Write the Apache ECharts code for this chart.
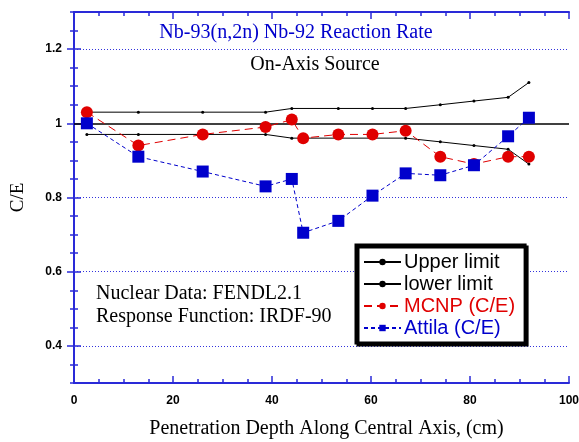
<!DOCTYPE html>
<html>
<head>
<meta charset="utf-8">
<script src="https://cdn.jsdelivr.net/npm/echarts@6/dist/echarts.min.js"></script>
<style>html,body{margin:0;padding:0;background:#fff}#c{width:579px;height:442px}</style>
</head>
<body>
<div id="c"></div>
<script>
// Data
var limitX = [2.6, 13, 26, 38.7, 44, 53.4, 60.3, 67, 74, 80.8, 87.7, 91.9];
var upperLimit = [1.03, 1.03, 1.03, 1.03, 1.04, 1.04, 1.04, 1.04, 1.05, 1.06, 1.07, 1.11];
var lowerLimit = [0.97, 0.97, 0.97, 0.97, 0.96, 0.96, 0.96, 0.96, 0.95, 0.94, 0.93, 0.89];
var calcX = [2.6, 13, 26, 38.7, 44, 46.3, 53.4, 60.3, 67, 74, 80.8, 87.7, 91.9];
var mcnp = [1.03, 0.94, 0.97, 0.99, 1.01, 0.96, 0.97, 0.97, 0.98, 0.91, 0.89, 0.91, 0.91];
var attila = [1.00, 0.91, 0.87, 0.83, 0.85, 0.705, 0.737, 0.805, 0.865, 0.86, 0.887, 0.965, 1.015];
var yLabelValues = [0.4, 0.6, 0.8, 1.0, 1.2];
var gridDotted = [0.4, 0.6, 0.8, 1.2];

function pairs(xs, ys) { return xs.map(function (x, i) { return [x, ys[i]]; }); }

var BLUE = '#0000cc';
var AXIS = '#2a2ad8';
var RED = '#e00000';
var serif = '"Liberation Serif", "Times New Roman", serif';
var sans = '"Liberation Sans", Arial, sans-serif';

var chart = echarts.init(document.getElementById('c'));

function xAx(pos, showLabel) {
  return {
    type: 'value', position: pos, min: 0, max: 100, interval: 5,
    axisLine: { show: true, lineStyle: { color: AXIS, width: 2 } },
    axisTick: { show: true, inside: true, length: 4, lineStyle: { color: AXIS, width: 1.5 } },
    axisLabel: {
      show: showLabel, color: '#000', fontWeight: 'bold', fontFamily: sans, fontSize: 12, margin: 12,
      formatter: function (v) { var r = Math.round(v); return r % 20 === 0 ? String(r) : ''; }
    },
    splitLine: { show: false },
    name: showLabel ? 'Penetration Depth Along Central Axis, (cm)' : '',
    nameLocation: 'middle', nameGap: 36,
    nameTextStyle: { fontFamily: serif, fontSize: 20, color: '#000', padding: [0, 0, 0, 10] }
  };
}
function xMajor(pos) {
  return {
    type: 'value', position: pos, min: 0, max: 100, interval: 20,
    axisLine: { show: false },
    axisTick: { show: true, inside: true, length: 7, lineStyle: { color: AXIS, width: 1.5 } },
    axisLabel: { show: false }, splitLine: { show: false }
  };
}
function yAx(pos, showLabel) {
  return {
    type: 'value', position: pos, min: 0.3, max: 1.3, interval: 0.05,
    axisLine: { show: true, lineStyle: { color: AXIS, width: 2 } },
    axisTick: { show: true, inside: true, length: 4, lineStyle: { color: AXIS, width: 1.5 } },
    axisLabel: {
      show: showLabel, color: '#000', fontWeight: 'bold', fontFamily: sans, fontSize: 12, margin: 12,
      formatter: function (v) {
        var r = Math.round(v * 100);
        if (r >= 40 && r <= 120 && r % 20 === 0) { return r === 100 ? '1' : (r / 100).toString(); }
        return '';
      }
    },
    splitLine: { show: false },
    name: showLabel ? 'C/E' : '', nameLocation: 'middle', nameGap: 46, nameRotate: 90,
    nameTextStyle: { fontFamily: serif, fontSize: 19, color: '#000' }
  };
}
function yMajor(pos) {
  return {
    type: 'value', position: pos, min: 0.3, max: 1.3, interval: 0.05,
    axisLine: { show: false },
    axisTick: { show: true, inside: true, length: 7, customValues: yLabelValues, lineStyle: { color: AXIS, width: 1.5 } },
    axisLabel: { show: false }, splitLine: { show: false }
  };
}

var gridLines = gridDotted.map(function (v) {
  return { yAxis: v, lineStyle: { color: '#3333dd', type: [1, 2], width: 1 } };
});
gridLines.push({ yAxis: 1.0, lineStyle: { color: '#000', type: 'solid', width: 1.5 } });

chart.setOption({
  animation: false,
  backgroundColor: '#fff',
  grid: { left: 74, right: 10, top: 12, bottom: 59, containLabel: false, outerBoundsMode: 'none' },
  xAxis: [xAx('bottom', true), xAx('top', false), xMajor('bottom'), xMajor('top')],
  yAxis: [yAx('left', true), yAx('right', false), yMajor('left'), yMajor('right')],
  graphic: [
    { type: 'text', x: 296, y: 23, style: { text: 'Nb-93(n,2n) Nb-92 Reaction Rate', fill: BLUE, font: '20px ' + serif, textAlign: 'center', textVerticalAlign: 'top' } },
    { type: 'text', x: 315, y: 55, style: { text: 'On-Axis Source', fill: '#000', font: '20px ' + serif, textAlign: 'center', textVerticalAlign: 'top' } },
    { type: 'text', x: 96, y: 284, style: { text: 'Nuclear Data: FENDL2.1', fill: '#000', font: '20px ' + serif, textAlign: 'left', textVerticalAlign: 'top' } },
    { type: 'text', x: 96, y: 307, style: { text: 'Response Function: IRDF-90', fill: '#000', font: '20px ' + serif, textAlign: 'left', textVerticalAlign: 'top' } }
  ],
  legend: {
    orient: 'vertical', left: 356, top: 245, width: 166,
    padding: [7, 10, 5, 7], itemGap: 2, itemWidth: 37, itemHeight: 8,
    backgroundColor: '#fff', borderColor: '#000', borderWidth: 3,
    shadowColor: '#000', shadowOffsetX: 2, shadowOffsetY: 2, shadowBlur: 0,
    textStyle: { fontFamily: sans, fontSize: 20, lineHeight: 20, color: '#000', padding: [0, 0, 0, -2] },
    data: [
      { name: 'Upper limit', textStyle: { color: '#000' } },
      { name: 'lower limit', textStyle: { color: '#000' } },
      { name: 'MCNP (C/E)', textStyle: { color: RED } },
      { name: 'Attila (C/E)', textStyle: { color: BLUE } }
    ]
  },
  series: [
    { name: 'Upper limit', type: 'line', data: pairs(limitX, upperLimit),
      symbol: 'circle', symbolSize: 3, itemStyle: { color: '#000' },
      lineStyle: { color: '#000', width: 1 },
      markLine: { silent: true, symbol: 'none', label: { show: false }, data: gridLines, z: 1 } },
    { name: 'lower limit', type: 'line', data: pairs(limitX, lowerLimit),
      symbol: 'circle', symbolSize: 3, itemStyle: { color: '#000' },
      lineStyle: { color: '#000', width: 1 } },
    { name: 'MCNP (C/E)', type: 'line', data: pairs(calcX, mcnp),
      symbol: 'circle', symbolSize: 12, itemStyle: { color: RED },
      lineStyle: { color: RED, width: 1, type: [8, 5] } },
    { name: 'Attila (C/E)', type: 'line', data: pairs(calcX, attila),
      symbol: 'rect', symbolSize: 12, itemStyle: { color: BLUE },
      lineStyle: { color: BLUE, width: 1, type: [4, 3] } }
  ]
});
</script>
</body>
</html>
